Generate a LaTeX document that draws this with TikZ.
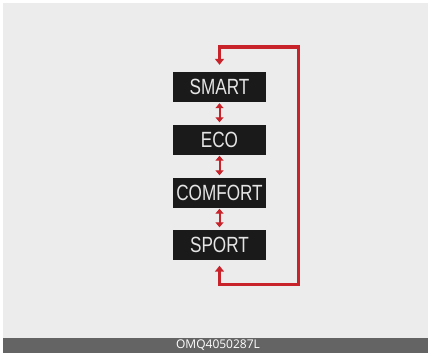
\documentclass[tikz,border=0pt]{standalone}
\usepackage{fontspec}
\setmainfont{Liberation Sans}
\newfontfamily\labelfont{Open Sans}
\usetikzlibrary{arrows.meta, positioning}
\definecolor{panelgrey}{RGB}{236, 236, 236}
\definecolor{bargrey}{RGB}{100, 100, 100}
\definecolor{modeblack}{RGB}{26, 26, 26}
\definecolor{modetext}{RGB}{228, 228, 228}
\definecolor{loopred}{RGB}{200, 34, 42}
\newcommand{\modetxt}[1]{\scalebox{0.78}[1]{#1}}

\begin{document}
\begin{tikzpicture}[x=1pt, y=-1pt,
    modebox/.style={fill=modeblack, text=modetext, minimum width=93pt, minimum height=30pt, inner sep=0pt, font=\fontsize{22}{22}\selectfont},
    swap/.style={draw=loopred, line width=2pt, {Triangle[length=5pt, width=8pt]}-{Triangle[length=5pt, width=8pt]}},
    loopline/.style={draw=loopred, line width=3pt, {Triangle[length=6pt, width=9pt]}-{Triangle[length=6pt, width=9pt]}}]
    \useasboundingbox (0,0) rectangle (430,353);
    % panel and caption bar
    \fill[white] (0,0) rectangle (430,353);
    \fill[panelgrey] (3,3) rectangle (428,338);
    \fill[bargrey] (3,338) rectangle (428,353);
    \node[text=white, font=\labelfont\fontsize{12}{12}\selectfont] (code) at (218,345.5) {OMQ4050287L};
    % drive modes
    \foreach \y/\name/\lbl in {
        87/smart/{SMART},
        139.5/eco/{ECO},
        192.5/comfort/{COMFORT},
        244.5/sport/{SPORT}}
    {
        \node[modebox] (\name) at (219.5,\y) {\modetxt{\lbl}};
    }
    \draw[swap] ([yshift=-1pt]smart.south) -- ([yshift=2pt]eco.north);
    \draw[swap] ([yshift=-1pt]eco.south) -- ([yshift=2pt]comfort.north);
    \draw[swap] ([yshift=-1pt]comfort.south) -- ([yshift=2pt]sport.north);
    % loop back from sport to smart
    \coordinate (loopTR) at (298,47);
    \coordinate (loopBR) at (298,284);
    \draw[loopline] ([yshift=-6pt]sport.south) |- (loopBR) -- (loopTR) -| ([yshift=7pt]smart.north);
\end{tikzpicture}
\end{document}
